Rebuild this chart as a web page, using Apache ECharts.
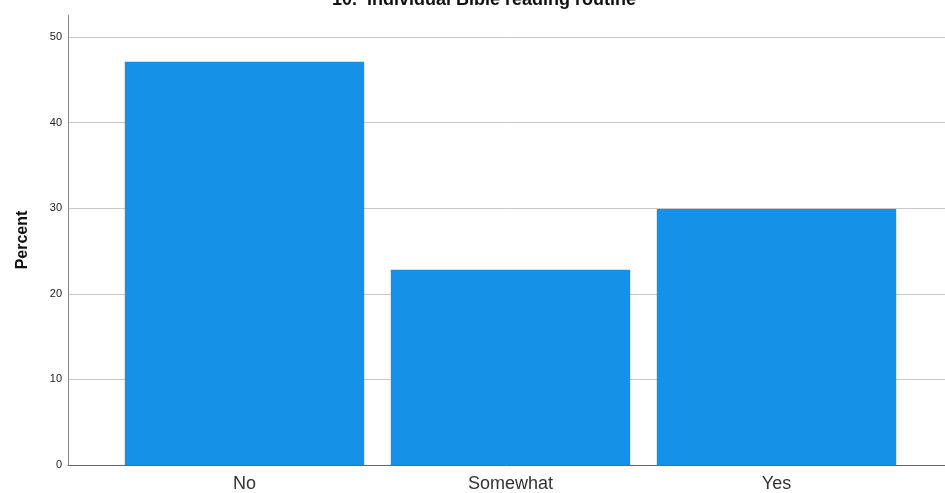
<!DOCTYPE html>
<html>
<head>
<meta charset="utf-8">
<script src="https://cdn.jsdelivr.net/npm/echarts@6/dist/echarts.min.js"></script>
<style>html,body{margin:0;padding:0;background:#fff}#c{width:945px;height:493px}</style>
</head>
<body>
<div id="c"></div>
<script>
const titleText = "10.  Individual Bible reading routine";
const categories = ["No", "Somewhat", "Yes"];
const percentValues = [47.1, 22.8, 29.9];
const yTicks = [0, 10, 20, 30, 40, 50];

const chart = echarts.init(document.getElementById('c'), null, {renderer: 'canvas'});
const FONT = "'Liberation Sans', Arial, sans-serif";
chart.setOption({
  animation: false,
  title: {
    text: titleText, left: 479, top: -14, textAlign: 'center',
    textStyle: {fontFamily: FONT, fontSize: 18, fontWeight: 'bold', color: '#111'}
  },
  grid: [
    {left: 68, right: 0, top: 15, bottom: 28},
    {left: 68, right: 0, top: 37, bottom: 28},
    {left: 111.5, right: 35.5, top: 37, bottom: 28}
  ],
  xAxis: [
    {gridIndex: 0, type: 'value', min: 0, max: 1, show: true,
     axisLine: {show: true, onZero: false, lineStyle: {color: '#666', width: 1}},
     axisTick: {show: false}, axisLabel: {show: false}, splitLine: {show: false}},
    {gridIndex: 1, type: 'value', min: 0, max: 1, show: false},
    {gridIndex: 2, type: 'category', data: categories,
     axisLine: {show: false}, axisTick: {show: false},
     axisLabel: {margin: 10, fontFamily: FONT, fontSize: 18, color: '#333'}}
  ],
  yAxis: [
    {gridIndex: 0, type: 'value', min: 0, max: 52.6,
     axisLine: {show: true, lineStyle: {color: '#888', width: 1}},
     axisTick: {show: false}, axisLabel: {show: false}, splitLine: {show: false},
     name: 'Percent', nameLocation: 'middle', nameGap: 37,
     nameTextStyle: {fontFamily: FONT, fontSize: 16, fontWeight: 'bold', color: '#111'}},
    {gridIndex: 1, type: 'value', min: yTicks[0], max: yTicks[yTicks.length - 1], interval: 10,
     axisLine: {show: false}, axisTick: {show: false},
     axisLabel: {margin: 6, fontFamily: FONT, fontSize: 11, color: '#222'},
     splitLine: {show: true, lineStyle: {color: '#c8c8c8', width: 1}}},
    {gridIndex: 2, type: 'value', min: yTicks[0], max: yTicks[yTicks.length - 1], show: false}
  ],
  series: [{
    type: 'bar', xAxisIndex: 2, yAxisIndex: 2,
    data: percentValues, barWidth: '90%',
    itemStyle: {color: '#1591e8'}
  }]
});
</script>
</body>
</html>
